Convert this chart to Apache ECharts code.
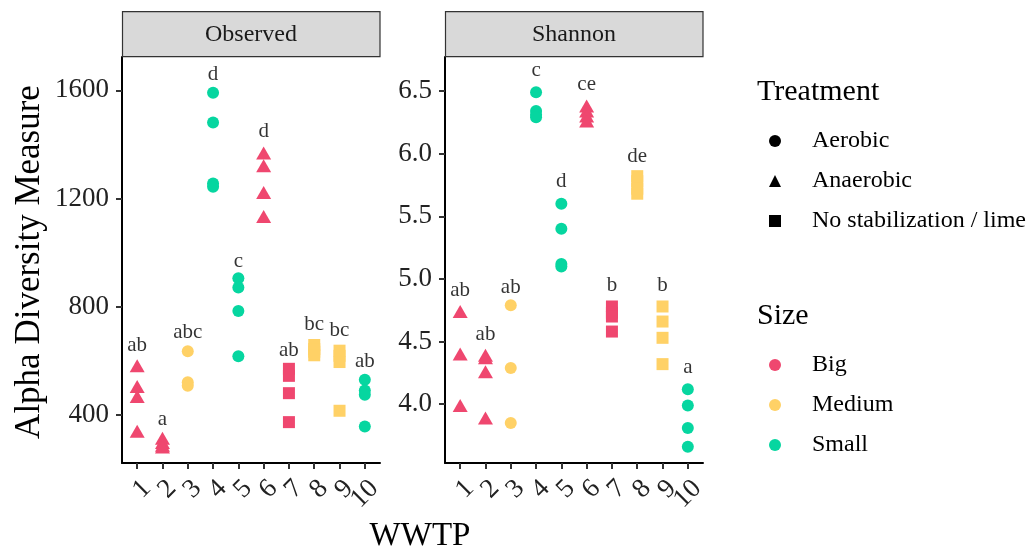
<!DOCTYPE html>
<html><head><meta charset="utf-8">
<script src="https://cdn.jsdelivr.net/npm/echarts@6/dist/echarts.min.js"></script>
<style>html,body{margin:0;padding:0;background:#fff}#c{width:1032px;height:549px}</style>
</head><body><div id="c"></div>
<script>
// ---- data ----
const sites = [1, 2, 3, 4, 5, 6, 7, 8, 9, 10];
const siteSize = ['Big', 'Big', 'Medium', 'Small', 'Small', 'Big', 'Big', 'Medium', 'Medium', 'Small'];
const siteTreatment = ['Anaerobic', 'Anaerobic', 'Aerobic', 'Aerobic', 'Aerobic', 'Anaerobic',
  'No stabilization / lime', 'No stabilization / lime', 'No stabilization / lime', 'Aerobic'];
const observed = [
  [582, 506, 469, 340],
  [314, 299, 289, 282],
  [636, 521, 508],
  [1591, 1481, 1256, 1244],
  [906, 871, 785, 617],
  [1368, 1321, 1222, 1134],
  [571, 545, 481, 374],
  [659, 644, 634, 621],
  [638, 619, 596, 416],
  [531, 491, 475, 358]
];
const shannon = [
  [4.74, 4.40, 3.99],
  [4.39, 4.37, 4.26, 3.89],
  [4.79, 4.29, 3.85],
  [6.49, 6.34, 6.31, 6.29],
  [5.60, 5.40, 5.12, 5.10],
  [6.38, 6.34, 6.30, 6.26],
  [4.78, 4.73, 4.70, 4.58],
  [5.82, 5.78, 5.72, 5.68],
  [4.78, 4.66, 4.53, 4.32],
  [4.12, 3.99, 3.81, 3.66]
];
const observedLetters = ['ab', 'a', 'abc', 'd', 'c', 'd', 'ab', 'bc', 'bc', 'ab'];
const observedLetterY = [656, 383, 705, 1657, 967, 1447, 639, 734, 711, 598];
const shannonLetters = ['ab', 'ab', 'ab', 'c', 'd', 'ce', 'b', 'de', 'b', 'a'];
const shannonLetterY = [4.91, 4.56, 4.93, 6.665, 5.777, 6.553, 4.949, 5.98, 4.944, 4.297];
const observedTicks = [400, 800, 1200, 1600];
const shannonTicks = [4.0, 4.5, 5.0, 5.5, 6.0, 6.5];
const oddSites = [1, 3, 5, 7, 9];
const evenSites = [2, 4, 6, 8, 10];
const panelNames = ['Observed', 'Shannon'];
const treatments = ['Aerobic', 'Anaerobic', 'No stabilization / lime'];
const sizes = ['Big', 'Medium', 'Small'];

// ---- style ----
const FONT = 'Liberation Serif';
const sizeColor = { Big: '#EF476F', Medium: '#FFD166', Small: '#06D6A0' };
const treatSymbol = { 'Aerobic': 'circle', 'Anaerobic': 'triangle', 'No stabilization / lime': 'rect' };
const treatSymbolSize = { 'Aerobic': 12, 'Anaerobic': [15, 13], 'No stabilization / lime': 12 };
const G = [
  { left: 122, top: 57, width: 258, height: 406 },
  { left: 445, top: 57, width: 258, height: 406 }
];

function pointSeries(values, gi) {
  const out = [];
  sizes.forEach(sz => treatments.forEach(tr => {
    const data = [];
    sites.forEach((s, i) => {
      if (siteSize[i] === sz && siteTreatment[i] === tr) values[i].forEach(v => data.push([s, v]));
    });
    if (data.length) out.push({
      type: 'scatter', xAxisIndex: gi * 2, yAxisIndex: gi, symbol: treatSymbol[tr],
      symbolSize: treatSymbolSize[tr], itemStyle: { color: sizeColor[sz], opacity: 1 },
      data, silent: true, z: 3, animation: false
    });
  }));
  return out;
}
function letterSeries(letters, ys, gi) {
  return {
    type: 'scatter', xAxisIndex: gi * 2, yAxisIndex: gi, symbolSize: 0,
    itemStyle: { color: 'rgba(0,0,0,0)' },
    data: sites.map((s, i) => [s, ys[i]]), silent: true, z: 4, animation: false,
    label: { show: true, position: 'inside', color: '#000', fontFamily: FONT, fontSize: 21,
      formatter: p => letters[p.dataIndex] }
  };
}
// two x axes per panel: the main one (line, ticks, odd labels) and a label-only one (even labels)
function xAxes(gi) {
  const lbl = { rotate: 45, margin: 12, verticalAlign: 'top', showMinLabel: true, showMaxLabel: true,
    fontFamily: FONT, fontSize: 27, color: '#222' };
  return [
    {
      type: 'value', gridIndex: gi, position: 'bottom', offset: 0, min: 0.4, max: 10.6, splitLine: { show: false },
      axisLine: { show: true, lineStyle: { color: '#000', width: 2 } },
      axisTick: { show: true, customValues: sites, length: 6, lineStyle: { color: '#333', width: 2 } },
      axisLabel: Object.assign({ customValues: oddSites }, lbl)
    },
    {
      type: 'value', gridIndex: gi, position: 'bottom', offset: 0, min: 0.4, max: 10.6, splitLine: { show: false },
      axisLine: { show: false }, axisTick: { show: false },
      axisLabel: Object.assign({ customValues: evenSites }, lbl)
    }
  ];
}
function yAxis(gi, min, max, ticks, fmt) {
  return {
    type: 'value', gridIndex: gi, min, max, splitLine: { show: false },
    axisLine: { show: true, lineStyle: { color: '#000', width: 2 } },
    axisTick: { show: true, customValues: ticks, length: 6, lineStyle: { color: '#333', width: 2 } },
    axisLabel: { customValues: ticks, margin: 13, showMinLabel: true, showMaxLabel: true,
      fontFamily: FONT, fontSize: 27, color: '#222', formatter: fmt }
  };
}

const legendDummies = [
  ...treatments.map(t => ({ type: 'scatter', name: t, data: [], symbol: treatSymbol[t], itemStyle: { color: '#000' } })),
  ...sizes.map(s => ({ type: 'scatter', name: s, data: [], symbol: 'circle', itemStyle: { color: sizeColor[s] } }))
];
const legendBase = {
  orient: 'vertical', left: 764, itemWidth: 12, itemHeight: 12, itemGap: 16, selectedMode: false,
  textStyle: { fontFamily: FONT, fontSize: 24, lineHeight: 24, color: '#000', padding: [0, 0, 0, 26] }
};

const graphics = [];
G.forEach((g, i) => {
  graphics.push({ type: 'rect', shape: { x: g.left + 0.5, y: 11.7, width: g.width - 0.5, height: 45 },
    style: { fill: '#D9D9D9', stroke: '#333', lineWidth: 1.2 }, z: 10 });
  graphics.push({ type: 'text', x: g.left + g.width / 2, y: 34.5, z: 11,
    style: { text: panelNames[i], font: '24px "Liberation Serif"', fill: '#1a1a1a', textAlign: 'center', textVerticalAlign: 'middle' } });
});
graphics.push({ type: 'text', x: 30, y: 262, rotation: Math.PI / 2,
  style: { text: 'Alpha Diversity Measure', font: '35px "Liberation Serif"', fill: '#000', textAlign: 'center', textVerticalAlign: 'middle' } });
graphics.push({ type: 'text', x: 420, y: 536,
  style: { text: 'WWTP', font: '33px "Liberation Serif"', fill: '#000', textAlign: 'center', textVerticalAlign: 'middle' } });
graphics.push({ type: 'text', x: 757, y: 92,
  style: { text: 'Treatment', font: '30px "Liberation Serif"', fill: '#000', textAlign: 'left', textVerticalAlign: 'middle' } });
graphics.push({ type: 'text', x: 757, y: 316,
  style: { text: 'Size', font: '30px "Liberation Serif"', fill: '#000', textAlign: 'left', textVerticalAlign: 'middle' } });

const chart = echarts.init(document.getElementById('c'), null, { renderer: 'canvas' });
chart.setOption({
  animation: false,
  backgroundColor: '#fff',
  grid: G,
  xAxis: [...xAxes(0), ...xAxes(1)],
  yAxis: [
    yAxis(0, 223, 1723, observedTicks, v => String(v)),
    yAxis(1, 3.531, 6.771, shannonTicks, v => v.toFixed(1))
  ],
  legend: [
    Object.assign({}, legendBase, { top: 124, data: treatments.map(t => ({ name: t, icon: treatSymbol[t], itemStyle: { color: '#000', opacity: 1 } })) }),
    Object.assign({}, legendBase, { top: 348, data: sizes.map(s => ({ name: s, icon: 'circle', itemStyle: { color: sizeColor[s], opacity: 1 } })) })
  ],
  graphic: graphics,
  series: [
    ...pointSeries(observed, 0),
    ...pointSeries(shannon, 1),
    letterSeries(observedLetters, observedLetterY, 0),
    letterSeries(shannonLetters, shannonLetterY, 1),
    ...legendDummies
  ]
});
</script></body></html>
